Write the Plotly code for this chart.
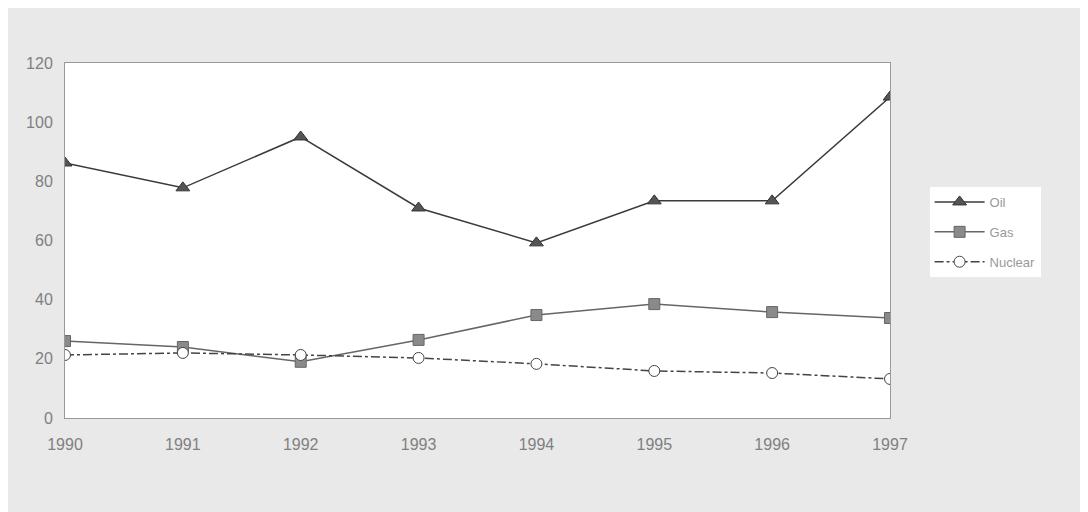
import plotly.graph_objects as go

years = [1990, 1991, 1992, 1993, 1994, 1995, 1996, 1997]
oil = [86.2, 77.8, 95.0, 71.0, 59.2, 73.4, 73.4, 108.5]
gas = [26.0, 24.0, 19.0, 26.4, 34.8, 38.5, 35.8, 33.8]
nuclear = [21.3, 22.0, 21.3, 20.3, 18.3, 15.9, 15.2, 13.2]
names = ["Oil", "Gas", "Nuclear"]
yticks = [0, 20, 40, 60, 80, 100, 120]

fig = go.Figure()
fig.add_trace(go.Scatter(x=years, y=oil, name=names[0], legendgroup="a", mode="lines+markers",
                         line=dict(color="#3a3a3a", width=1.5),
                         marker=dict(symbol="triangle-up", size=12, color="#555555",
                                     line=dict(color="#333333", width=1))))
fig.add_trace(go.Scatter(x=years, y=gas, name=names[1], legendgroup="b", mode="lines+markers",
                         line=dict(color="#666666", width=1.5),
                         marker=dict(symbol="square", size=11, color="#8a8a8a",
                                     line=dict(color="#666666", width=1))))
fig.add_trace(go.Scatter(x=years, y=nuclear, name=names[2], legendgroup="c", mode="lines+markers",
                         line=dict(color="#444444", width=1.5, dash="dashdot"),
                         marker=dict(symbol="circle", size=11, color="white",
                                     line=dict(color="#444444", width=1))))

fig.update_layout(
    width=1088, height=512,
    margin=dict(l=57, r=206, t=55, b=102),
    paper_bgcolor="#e9e9e9", plot_bgcolor="white",
    font=dict(family="Liberation Sans, Arial, sans-serif", size=16, color="#808080"),
    legend=dict(x=1.048, y=0.524, xanchor="left", yanchor="middle",
                bgcolor="white", font=dict(size=13, color="#999999"),
                tracegroupgap=10, itemwidth=50),
    xaxis=dict(range=[1990, 1997], tickmode="array", tickvals=years,
               ticktext=[str(y) for y in years], showgrid=False, zeroline=False,
               showline=True, linecolor="#999999", linewidth=1, mirror=True,
               ticks="outside", ticklen=12, tickcolor="rgba(0,0,0,0)"),
    yaxis=dict(range=[0, 120], tickmode="array", tickvals=yticks, showgrid=False,
               zeroline=False, showline=True, linecolor="#999999", linewidth=1,
               mirror=True, ticks="outside", ticklen=8, tickcolor="rgba(0,0,0,0)"),
)
fig.write_html("out.html")
